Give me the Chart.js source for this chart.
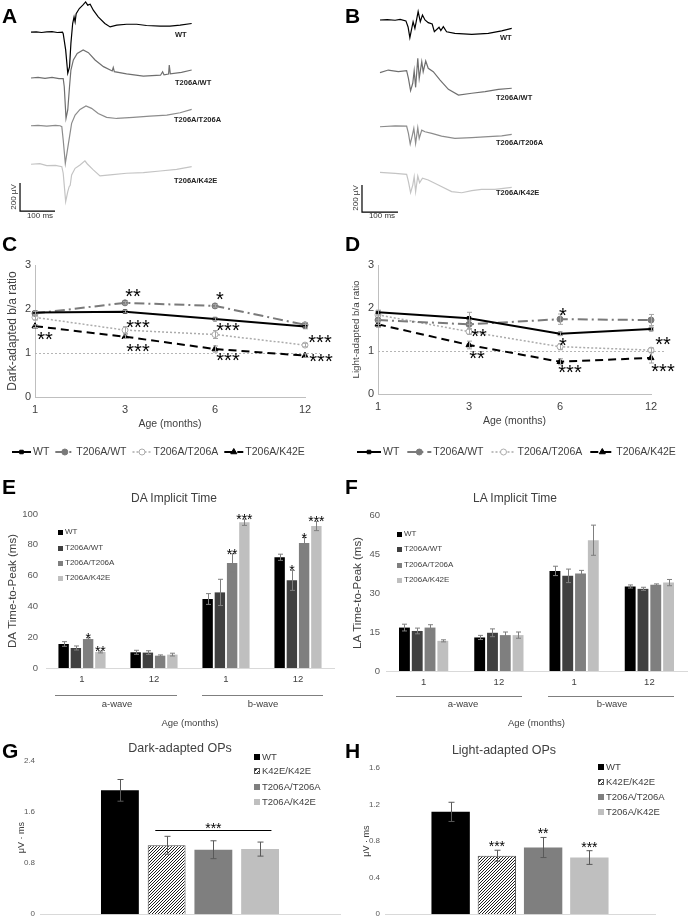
<!DOCTYPE html>
<html>
<head>
<meta charset="utf-8">
<title>ERG figure</title>
<script src="https://cdn.jsdelivr.net/npm/chart.js@4.4.1/dist/chart.umd.min.js"></script>
<style>
  html, body { margin: 0; background: #fff; }
  #fig { position: relative; width: 689px; height: 924px; overflow: hidden; font-family: "Liberation Sans", Arial, sans-serif; }
  #fig canvas { position: absolute; }
  .t { position: absolute; white-space: nowrap; line-height: 1; color: #404040; }
  .sq { position: absolute; }
  .rule { position: absolute; height: 0; border-top: 1px solid #7f7f7f; }
</style>
</head>
<body>
<div id="fig"></div>
<script>
// ---------- data ----------
var genotypes = ['WT', 'T206A/WT', 'T206A/T206A', 'T206A/K42E'];
var opsGenotypes = ['WT', 'K42E/K42E', 'T206A/T206A', 'T206A/K42E'];
var ages = ['1', '3', '6', '12'];
var waveAges = ['1', '12', '1', '12'];

// A: dark-adapted ERG traces, [ms, uV] from flash
var daTraceWT = [[0,0],[15,3],[30,-2],[45,2],[60,4],[75,-2],[90,0],[92,-10],[99,-126],[105,-293],[110,-248],[114,-79],[119,62],[123,109],[126,74],[129,133],[138,169],[148,193],[156,216],[162,193],[169,200],[178,157],[192,109],[211,62],[226,38],[245,50],[273,57],[302,57],[330,48],[369,43],[397,43],[426,50],[459,62]];
var daTraceTWT = [[0,0],[20,5],[40,-3],[60,4],[80,-4],[92,-5],[95,-62],[100,-288],[105,-228],[110,-62],[114,57],[121,129],[132,176],[149,200],[164,181],[183,129],[207,81],[232,50],[235,75],[238,45],[273,29],[321,14],[370,20],[376,45],[380,22],[393,28],[395,93],[398,30],[430,40],[459,57]];
var daTraceTT = [[0,0],[20,3],[45,-3],[70,2],[83,0],[88,-7],[92,-102],[98,-269],[104,-174],[107,-126],[110,-79],[116,17],[126,76],[140,117],[157,141],[173,124],[192,88],[216,60],[245,52],[292,60],[340,69],[388,76],[426,93],[459,117]];
var daTraceTK = [[0,0],[25,5],[45,-10],[70,-8],[88,-17],[92,-64],[99,-267],[105,-195],[109,-160],[112,-150],[116,-76],[126,-29],[140,-5],[154,24],[161,2],[178,-40],[197,-83],[226,-76],[273,-64],[321,-60],[369,-48],[416,-36],[459,-17]];

// B: light-adapted ERG traces
var laTraceWT = [[0,0],[20,3],[42,-2],[56,4],[72,-7],[78,-52],[83,-131],[92,-13],[97,-62],[106,62],[112,-13],[118,37],[125,0],[134,-20],[145,-30],[151,-87],[164,-54],[169,-79],[176,-50],[185,-87],[208,-99],[255,-106],[301,-99],[338,-81],[366,-62]];
var laTraceTWT = [[0,-7],[23,12],[51,0],[74,7],[79,-49],[85,-141],[91,-86],[95,7],[99,-116],[105,99],[109,-49],[116,74],[120,0],[127,79],[134,25],[148,0],[167,-62],[190,-131],[218,-173],[255,-160],[292,-148],[329,-131],[366,-123]];
var laTraceTT = [[0,-5],[42,2],[74,0],[79,-54],[84,-133],[90,-67],[94,-17],[99,-128],[105,-12],[109,-91],[116,-30],[125,-42],[144,-54],[171,-74],[208,-91],[255,-86],[301,-79],[338,-72],[366,-62]];
var laTraceTK = [[0,0],[42,-7],[74,-15],[79,-69],[85,-151],[91,-94],[95,-32],[99,-143],[105,-27],[110,-77],[118,-44],[134,-57],[162,-94],[199,-143],[227,-151],[255,-136],[282,-126],[319,-126],[366,-111]];

var scaleBarMs = 100;
var scaleBarUv = 200;

// C: dark-adapted b/a ratio
var daRatioWT  = [1.92, 1.94, 1.77, 1.60];
var daRatioTWT = [1.90, 2.14, 2.07, 1.64];
var daRatioTT  = [1.81, 1.52, 1.42, 1.18];
var daRatioTK  = [1.61, 1.37, 1.09, 0.94];
var daRatioErrWT  = [0.04, 0.03, 0.03, 0.05];
var daRatioErrTWT = [0.04, 0.03, 0.03, 0.05];
var daRatioErrTT  = [0.06, 0.08, 0.09, 0.04];
var daRatioErrTK  = [0.03, 0.04, 0.07, 0.04];
var daRatioSigWT  = ['', '', '', ''];
var daRatioSigTWT = ['', '**', '*', ''];
var daRatioSigTT  = ['', '***', '***', '***'];
var daRatioSigTK  = ['**', '***', '***', '***'];

// D: light-adapted b/a ratio
var laRatioWT  = [1.90, 1.76, 1.40, 1.51];
var laRatioTWT = [1.72, 1.62, 1.74, 1.72];
var laRatioTT  = [1.84, 1.45, 1.10, 1.02];
var laRatioTK  = [1.62, 1.14, 0.75, 0.84];
var laRatioErrWT  = [0.05, 0.14, 0.04, 0.04];
var laRatioErrTWT = [0.10, 0.10, 0.12, 0.13];
var laRatioErrTT  = [0.10, 0.06, 0.07, 0.05];
var laRatioErrTK  = [0.07, 0.09, 0.07, 0.12];
var laRatioSigWT  = ['', '', '', ''];
var laRatioSigTWT = ['', '', '*', ''];
var laRatioSigTT  = ['', '**', '*', '**'];
var laRatioSigTK  = ['', '**', '***', '***'];
var ratioRef = 1;

// E: DA implicit time (a-wave 1, 12; b-wave 1, 12)
var daItWT  = [15.6, 10.2, 44.8, 71.9];
var daItTWT = [13.0, 10.0, 49.1, 56.9];
var daItTT  = [18.8, 8.0, 68.2, 81.2];
var daItTK  = [10.4, 8.7, 94.6, 92.2];
var daItErrWT  = [1.5, 1.3, 3.5, 2.0];
var daItErrTWT = [1.3, 1.2, 8.5, 6.5];
var daItErrTT  = [0.8, 0.5, 6.0, 3.5];
var daItErrTK  = [0.6, 0.9, 2.0, 3.0];
var daItSigTWT = ['', '', '', '*'];
var daItSigTT  = ['*', '', '**', '*'];
var daItSigTK  = ['**', '', '***', '***'];

// F: LA implicit time
var laItWT  = [16.7, 12.9, 38.5, 32.5];
var laItTWT = [15.4, 14.7, 36.6, 31.6];
var laItTT  = [16.7, 13.8, 37.5, 33.2];
var laItTK  = [11.6, 13.8, 50.3, 34.0];
var laItErrWT  = [1.3, 0.8, 1.8, 0.6];
var laItErrTWT = [1.1, 1.5, 2.6, 0.6];
var laItErrTT  = [1.1, 1.2, 1.2, 0.3];
var laItErrTK  = [0.4, 1.2, 5.8, 1.2];

// G/H: oscillatory potentials
var daOps    = [1.94, 1.08, 1.01, 1.02];
var daOpsErr = [0.17, 0.14, 0.14, 0.11];
var daOpsSigLevel = 1.32;
var laOps    = [1.12, 0.64, 0.73, 0.62];
var laOpsErr = [0.105, 0.06, 0.11, 0.075];
var laOpsSig = ['', '***', '**', '***'];

// ---------- styling ----------
var FONT = '"Liberation Sans", Arial, sans-serif';
Chart.defaults.font.family = FONT;
Chart.defaults.color = '#404040';
Chart.defaults.animation = false;
Chart.defaults.responsive = false;
Chart.defaults.devicePixelRatio = 1;
Chart.defaults.plugins.legend.display = false;
Chart.defaults.plugins.tooltip.enabled = false;

var barColors = ['#000000', '#404040', '#7f7f7f', '#bfbfbf'];
var traceColors = ['#000000', '#6f6f6f', '#8c8c8c', '#c4c4c4'];
var lineStyles = [
  { borderColor: '#000', borderWidth: 2, borderDash: [], pointStyle: 'rect', pointRadius: 2.5, pointBackgroundColor: '#000', pointBorderColor: '#000' },
  { borderColor: '#7a7a7a', borderWidth: 2, borderDash: [10, 4, 2, 4], pointStyle: 'circle', pointRadius: 3, pointBackgroundColor: '#7a7a7a', pointBorderColor: '#7a7a7a' },
  { borderColor: '#ababab', borderWidth: 1.5, borderDash: [2, 2], pointStyle: 'circle', pointRadius: 3, pointBackgroundColor: '#fff', pointBorderColor: '#ababab' },
  { borderColor: '#000', borderWidth: 2, borderDash: [8, 5], pointStyle: 'triangle', pointRadius: 3.5, pointBackgroundColor: '#000', pointBorderColor: '#000' }
];
// star label offsets from their point, px
var noOff = [[0, 0], [0, 0], [0, 0], [0, 0]];
var daStarOff = [noOff, [[0, 0], [8, -11], [5, -11], [0, 0]], [[0, 0], [13, -8], [13, -9], [15, -8]], [[10, 8], [13, 10], [13, 6], [16, 1]]];
var laStarOff = [noOff, [[0, 0], [0, 0], [3, -9], [0, 0]], [[0, 0], [10, 0], [3, -6], [12, -11]], [[0, 0], [8, 9], [10, 6], [12, 9]]];

var fig = document.getElementById('fig');

function canvas(x, y, w, h) {
  var c = document.createElement('canvas');
  c.width = w; c.height = h;
  c.style.left = x + 'px'; c.style.top = y + 'px';
  c.style.width = w + 'px'; c.style.height = h + 'px';
  fig.appendChild(c);
  return c;
}

function put(s, x, y, css, center, rot) {
  var d = document.createElement('div');
  d.className = 't';
  d.textContent = s;
  d.style.cssText += 'left:' + x + 'px;top:' + y + 'px;' + (css || '');
  d.style.transform = (center ? 'translate(-50%,-50%)' : 'translateY(-50%)') + (rot ? ' rotate(-90deg)' : '');
  fig.appendChild(d);
  return d;
}

function box(cls, x, y, w, h, css) {
  var d = document.createElement('div');
  d.className = cls;
  d.style.cssText = 'left:' + x + 'px;top:' + y + 'px;width:' + w + 'px;' + (h != null ? 'height:' + h + 'px;' : '') + (css || '');
  fig.appendChild(d);
  return d;
}

// ---------- plugins ----------
var errorBars = {
  id: 'errorBars',
  afterDatasetsDraw: function (chart, args, o) {
    var ctx = chart.ctx, ys = chart.scales.y;
    ctx.save();
    ctx.strokeStyle = o.color; ctx.lineWidth = 1; ctx.setLineDash([]);
    chart.data.datasets.forEach(function (ds, i) {
      if (!ds.errors) return;
      chart.getDatasetMeta(i).data.forEach(function (el, j) {
        var e = ds.errors[j]; if (!e) return;
        var x = Math.round(el.x) + 0.5;
        var t = ys.getPixelForValue(ds.data[j] + e), b = ys.getPixelForValue(ds.data[j] - e);
        ctx.beginPath();
        ctx.moveTo(x, t); ctx.lineTo(x, b);
        ctx.moveTo(x - o.cap, t); ctx.lineTo(x + o.cap, t);
        ctx.moveTo(x - o.cap, b); ctx.lineTo(x + o.cap, b);
        ctx.stroke();
      });
    });
    ctx.restore();
  }
};

var sigStars = {
  id: 'sigStars',
  afterDatasetsDraw: function (chart, args, o) {
    var ctx = chart.ctx, ys = chart.scales.y;
    ctx.save();
    ctx.fillStyle = '#000';
    ctx.font = o.size + 'px ' + FONT;
    ctx.textAlign = 'center';
    ctx.textBaseline = 'alphabetic';
    chart.data.datasets.forEach(function (ds, i) {
      if (!ds.sig) return;
      chart.getDatasetMeta(i).data.forEach(function (el, j) {
        var s = ds.sig[j]; if (!s) return;
        var x = el.x, y;
        if (ds.sigOff) { x += ds.sigOff[j][0]; y = el.y + ds.sigOff[j][1]; }
        else { y = ys.getPixelForValue(ds.data[j] + (ds.errors ? ds.errors[j] : 0)) - o.gap; }
        ctx.fillText(s, x, y + 0.575 * o.size);
      });
    });
    ctx.restore();
  }
};

var refLine = {
  id: 'refLine',
  beforeDatasetsDraw: function (chart, args, o) {
    var ctx = chart.ctx, a = chart.chartArea, y = Math.round(chart.scales.y.getPixelForValue(o.value)) + 0.5;
    ctx.save();
    ctx.strokeStyle = o.color; ctx.lineWidth = 1; ctx.setLineDash([2, 2]);
    ctx.beginPath(); ctx.moveTo(a.left, y); ctx.lineTo(a.right + o.extend, y); ctx.stroke();
    ctx.restore();
  }
};

var lineLegend = {
  id: 'lineLegend',
  afterDraw: function (chart, args, o) {
    var ctx = chart.ctx, x = o.x, y = o.y;
    ctx.save();
    ctx.font = o.size + 'px ' + FONT;
    ctx.textBaseline = 'middle';
    chart.data.datasets.forEach(function (ds) {
      ctx.strokeStyle = ds.borderColor; ctx.lineWidth = ds.borderWidth; ctx.setLineDash(ds.borderDash);
      ctx.beginPath(); ctx.moveTo(x, y); ctx.lineTo(x + o.line, y); ctx.stroke();
      ctx.setLineDash([]);
      ctx.fillStyle = ds.pointBackgroundColor; ctx.strokeStyle = ds.pointBorderColor; ctx.lineWidth = 1;
      Chart.helpers.drawPoint(ctx, { pointStyle: ds.pointStyle, radius: ds.pointRadius, borderWidth: 1, rotation: 0 }, x + o.line / 2, y);
      ctx.fillStyle = '#404040';
      ctx.fillText(ds.label, x + o.line + 2, y);
      x += o.line + 2 + ctx.measureText(ds.label).width + o.gap;
    });
    ctx.restore();
  }
};

var bracket = {
  id: 'bracket',
  afterDatasetsDraw: function (chart, args, o) {
    var ctx = chart.ctx, ys = chart.scales.y;
    var a = chart.getDatasetMeta(o.from).data[0], b = chart.getDatasetMeta(o.to).data[0];
    var x1 = a.x - a.width * 0.3, x2 = b.x + b.width * 0.3;
    var y = Math.round(ys.getPixelForValue(o.value)) + 0.5;
    ctx.save();
    ctx.strokeStyle = '#000'; ctx.lineWidth = 1;
    ctx.beginPath(); ctx.moveTo(x1, y); ctx.lineTo(x2, y); ctx.stroke();
    ctx.fillStyle = '#000'; ctx.font = o.size + 'px ' + FONT; ctx.textAlign = 'center';
    ctx.fillText(o.text, (x1 + x2) / 2, y - o.gap + 0.575 * o.size);
    ctx.restore();
  }
};

// ---------- chart builders ----------
function traceChart(cv, traces, offsets, xr, yr, bar) {
  var sets = traces.map(function (tr, k) {
    return {
      data: tr.map(function (p) { return { x: p[0], y: p[1] + offsets[k] }; }),
      borderColor: traceColors[k], borderWidth: 1.2, pointRadius: 0, showLine: true, tension: 0
    };
  });
  sets.push({
    data: [{ x: bar.x, y: bar.y + scaleBarUv }, { x: bar.x, y: bar.y }, { x: bar.x + scaleBarMs, y: bar.y }],
    borderColor: '#000', borderWidth: 1.2, pointRadius: 0, showLine: true, tension: 0
  });
  return new Chart(cv, {
    type: 'scatter',
    data: { datasets: sets },
    options: {
      layout: { padding: 0 },
      scales: {
        x: { type: 'linear', display: false, min: xr[0], max: xr[1] },
        y: { display: false, min: yr[0], max: yr[1] }
      }
    }
  });
}

function ratioChart(cv, vals, errs, sigs, offs, o) {
  var sets = vals.map(function (v, k) {
    return Object.assign({
      label: genotypes[k], data: v, errors: errs[k], sig: sigs[k], sigOff: offs[k],
      fill: false, tension: 0, pointBorderWidth: 1
    }, lineStyles[k]);
  });
  return new Chart(cv, {
    type: 'line',
    data: { labels: ages, datasets: sets },
    options: {
      layout: { padding: o.pad },
      scales: {
        x: {
          offset: false, grid: { display: false, drawTicks: false }, border: { color: '#bfbfbf' },
          ticks: { padding: 6, font: { size: 11 } },
          title: { display: true, text: 'Age (months)', font: { size: 10.5 }, padding: { top: 0, bottom: 2 } },
          afterFit: function (s) { s.height = 35; }
        },
        y: {
          min: 0, max: 3, grid: { display: false, drawTicks: false }, border: { color: '#bfbfbf' },
          ticks: { stepSize: 1, padding: 4, font: { size: 11 } },
          title: { display: true, text: o.yTitle, font: { size: o.yTitleSize }, padding: 0 },
          afterFit: function (s) { s.width = o.yW; }
        }
      },
      plugins: {
        refLine: { value: ratioRef, color: '#b5b5b5', extend: 15 },
        errorBars: { color: '#a6a6a6', cap: 2.5 },
        sigStars: { size: 20 },
        lineLegend: o.legend
      }
    },
    plugins: [refLine, errorBars, sigStars, lineLegend]
  });
}

function barChart(cv, labels, names, vals, errs, sigs, fills, o) {
  var sets = vals.map(function (v, k) {
    return {
      label: names[k], data: v, errors: errs[k], sig: sigs ? sigs[k] : null,
      backgroundColor: fills[k], borderColor: o.borders ? o.borders[k] : fills[k],
      borderWidth: o.borders && o.borders[k] ? 1 : 0,
      categoryPercentage: o.cat, barPercentage: o.bar
    };
  });
  var extra = [errorBars, sigStars];
  if (o.bracket) extra.push(bracket);
  return new Chart(cv, {
    type: 'bar',
    data: { labels: labels, datasets: sets },
    options: {
      layout: { padding: o.pad },
      scales: {
        x: {
          grid: { display: false, drawTicks: false }, border: { color: '#d9d9d9' },
          ticks: { display: !!o.xTicks, padding: 6, font: { size: 9.5 }, color: '#404040' },
          title: { display: !!o.xTitle, text: o.xTitle || '', font: { size: 9.5 }, padding: { top: 0, bottom: 1 } },
          afterFit: function (s) { s.height = o.xH; }
        },
        y: {
          min: 0, max: o.max, grid: { display: false, drawTicks: false }, border: { display: false },
          ticks: { stepSize: o.step, padding: o.tickPad, font: { size: o.tickSize }, color: '#595959' },
          title: { display: true, text: o.yTitle, font: { size: o.yTitleSize }, padding: 0 },
          afterFit: function (s) { s.width = o.yW; }
        }
      },
      plugins: {
        errorBars: { color: o.errColor, cap: o.cap },
        sigStars: { size: 14, gap: o.starGap },
        bracket: o.bracket
      }
    },
    plugins: extra
  });
}

// ---------- A / B ----------
traceChart(canvas(0, 0, 200, 220), [daTraceWT, daTraceTWT, daTraceTT, daTraceTK],
  [-230, -557, -898, -1173], [-88.6, 482.8], [-1571, 0], { x: -31.4, y: -1507 });
traceChart(canvas(345, 0, 200, 220), [laTraceWT, laTraceTWT, laTraceTT, laTraceTK],
  [-148, -531, -934, -1277], [-97.2, 458.4], [-1630, 0], { x: -50, y: -1571 });

// ---------- C / D ----------
ratioChart(canvas(0, 240, 345, 230),
  [daRatioWT, daRatioTWT, daRatioTT, daRatioTK],
  [daRatioErrWT, daRatioErrTWT, daRatioErrTT, daRatioErrTK],
  [daRatioSigWT, daRatioSigTWT, daRatioSigTT, daRatioSigTK], daStarOff,
  { pad: { left: 5, right: 40, top: 25, bottom: 38 }, yW: 30, yTitle: 'Dark-adapted b/a ratio', yTitleSize: 12,
    legend: { x: 12, y: 212, size: 10.5, line: 19, gap: 6 } });
ratioChart(canvas(345, 240, 344, 230),
  [laRatioWT, laRatioTWT, laRatioTT, laRatioTK],
  [laRatioErrWT, laRatioErrTWT, laRatioErrTT, laRatioErrTK],
  [laRatioSigWT, laRatioSigTWT, laRatioSigTT, laRatioSigTK], laStarOff,
  { pad: { left: 5, right: 38, top: 25, bottom: 41 }, yW: 28, yTitle: 'Light-adapted b/a ratio', yTitleSize: 9.8,
    legend: { x: 12, y: 212, size: 10.5, line: 24, gap: 8 } });

// ---------- E / F ----------
barChart(canvas(0, 475, 345, 255), waveAges, genotypes,
  [daItWT, daItTWT, daItTT, daItTK], [daItErrWT, daItErrTWT, daItErrTT, daItErrTK],
  [null, daItSigTWT, daItSigTT, daItSigTK], barColors,
  { pad: { left: 6, right: 11, top: 39, bottom: 0 }, yW: 40, xH: 62, max: 100, step: 20, tickPad: 8, tickSize: 9.5,
    xTicks: true, xTitle: 'Age (months)', yTitle: 'DA Time-to-Peak (ms)', yTitleSize: 11.5,
    cat: 0.68, bar: 0.85, errColor: '#7f7f7f', cap: 2.5, starGap: 3 });
barChart(canvas(345, 475, 344, 255), waveAges, genotypes,
  [laItWT, laItTWT, laItTT, laItTK], [laItErrWT, laItErrTWT, laItErrTT, laItErrTK],
  null, barColors,
  { pad: { left: 6, right: 2, top: 40, bottom: 0 }, yW: 35, xH: 59, max: 60, step: 15, tickPad: 6, tickSize: 9.5,
    xTicks: true, xTitle: 'Age (months)', yTitle: 'LA Time-to-Peak (ms)', yTitleSize: 11.5,
    cat: 0.68, bar: 0.85, errColor: '#7f7f7f', cap: 2.5, starGap: 3 });

// ---------- G / H ----------
var cvG = canvas(0, 700, 345, 224);
var cvH = canvas(345, 700, 344, 224);
function hatch(cv) {
  var tile = document.createElement('canvas');
  tile.width = 3; tile.height = 3;
  var c = tile.getContext('2d');
  c.fillStyle = '#fff'; c.fillRect(0, 0, 3, 3);
  c.strokeStyle = '#1e1e1e'; c.lineWidth = 1;
  c.beginPath();
  c.moveTo(0, 3); c.lineTo(3, 0);
  c.moveTo(-1, 1); c.lineTo(1, -1);
  c.moveTo(2, 4); c.lineTo(4, 2);
  c.stroke();
  return cv.getContext('2d').createPattern(tile, 'repeat');
}
var opsBorders = [null, '#4d4d4d', null, null];
function one(v) { return [v]; }

barChart(cvG, [''], opsGenotypes, daOps.map(one), daOpsErr.map(one), null,
  ['#000000', hatch(cvG), '#7f7f7f', '#bfbfbf'],
  { pad: { left: 16, right: 5, top: 61, bottom: 0 }, yW: 24, xH: 6, max: 2.4, step: 0.8, tickPad: 5, tickSize: 8,
    xTicks: false, yTitle: 'μV · ms', yTitleSize: 9, borders: opsBorders,
    cat: 0.623, bar: 0.81, errColor: '#595959', cap: 3, starGap: 7,
    bracket: { from: 1, to: 3, value: daOpsSigLevel, text: '***', size: 14, gap: 6 } });
barChart(cvH, [''], opsGenotypes, laOps.map(one), laOpsErr.map(one), laOpsSig.map(one),
  ['#000000', hatch(cvH), '#7f7f7f', '#bfbfbf'],
  { pad: { left: 16, right: 34, top: 68, bottom: 0 }, yW: 24, xH: 6, max: 1.6, step: 0.4, tickPad: 5, tickSize: 8,
    xTicks: false, yTitle: 'μV · ms', yTitleSize: 9, borders: opsBorders,
    cat: 0.685, bar: 0.83, errColor: '#595959', cap: 3, starGap: 7 });

// ---------- text, legends, brackets ----------
var letter = 'font-weight:bold;font-size:21px;color:#000;';
put('A', 2, 15, letter); put('B', 345, 15, letter);
put('C', 2, 243, letter); put('D', 345, 243, letter);
put('E', 2, 486, letter); put('F', 345, 486, letter);
put('G', 2, 750, letter); put('H', 345, 750, letter);

var traceLbl = 'font-weight:bold;font-size:7.5px;color:#222;';
[[175, 35], [175, 83], [174, 120], [174, 181]].forEach(function (p, k) { put(genotypes[k], p[0], p[1], traceLbl); });
[[500, 38], [496, 98], [496, 143], [496, 193]].forEach(function (p, k) { put(genotypes[k], p[0], p[1], traceLbl); });
put('200 µV', 14, 197, 'font-size:8px;color:#333;', true, true);
put('100 ms', 40, 216, 'font-size:8px;color:#333;', true);
put('200 µV', 356, 198, 'font-size:8px;color:#333;', true, true);
put('100 ms', 382, 216, 'font-size:8px;color:#333;', true);

put('DA Implicit Time', 174, 498, 'font-size:12px;', true);
put('LA Implicit Time', 515, 498, 'font-size:12px;', true);
put('Dark-adapted OPs', 180, 748, 'font-size:12.5px;', true);
put('Light-adapted OPs', 504, 750, 'font-size:12.5px;', true);

function squareLegend(x, ys, names, fills, size, fs) {
  names.forEach(function (n, k) {
    box('sq', x, ys[k] - size / 2, size, size, 'box-sizing:border-box;background:' + fills[k] + ';');
    put(n, x + size + 2, ys[k], 'font-size:' + fs + 'px;');
  });
}
squareLegend(58, [532, 548, 563, 578], genotypes, barColors, 5, 8);
squareLegend(397, [534, 549, 565, 580], genotypes, barColors, 5, 8);
var hatchCss = 'repeating-linear-gradient(-45deg,#fff 0 1px,#333 1px 2px,#fff 2px 3px);border:1px solid #555';
squareLegend(254, [757, 771, 787, 802], opsGenotypes, ['#000', hatchCss, '#7f7f7f', '#bfbfbf'], 6, 9.5);
squareLegend(598, [767, 782, 797, 812], opsGenotypes, ['#000', hatchCss, '#7f7f7f', '#bfbfbf'], 6, 9.5);

box('rule', 55, 695, 122);  put('a-wave', 117, 704, 'font-size:9.5px;', true);
box('rule', 202, 695, 121); put('b-wave', 263, 704, 'font-size:9.5px;', true);
box('rule', 396, 696, 126); put('a-wave', 463, 704, 'font-size:9.5px;', true);
box('rule', 548, 696, 126); put('b-wave', 612, 704, 'font-size:9.5px;', true);
</script>
</body>
</html>
